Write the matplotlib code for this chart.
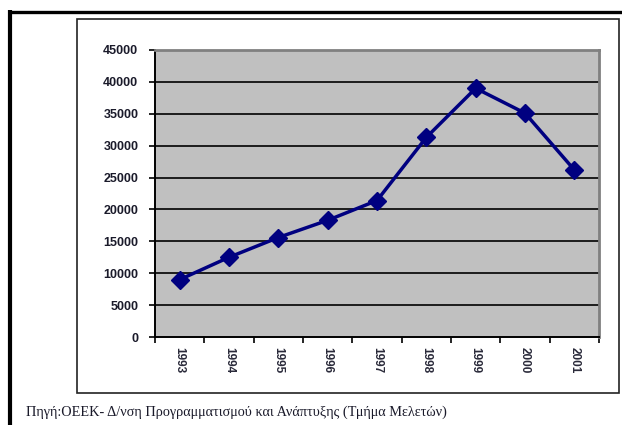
import matplotlib
matplotlib.use("Agg")
import matplotlib.pyplot as plt
from matplotlib.lines import Line2D
from matplotlib.patches import Rectangle

years = ["1993", "1994", "1995", "1996", "1997", "1998", "1999", "2000", "2001"]
values = [9000, 12500, 15600, 18300, 21400, 31300, 39000, 35100, 26200]
y_ticks = [0, 5000, 10000, 15000, 20000, 25000, 30000, 35000, 40000, 45000]
caption = "Πηγή:ΟΕΕΚ- Δ/νση Προγραμματισμού και Ανάπτυξης (Τμήμα Μελετών)"

W, H = 622, 425
fig = plt.figure(figsize=(W / 100, H / 100), dpi=100)
fig.patch.set_facecolor("white")

# outer frame (left and top thick lines)
fig.add_artist(Line2D([10 / W, 10 / W], [0, 1 - 10 / H], transform=fig.transFigure,
                      color="black", lw=3.0, solid_capstyle="butt", zorder=-2))
fig.add_artist(Line2D([8.5 / W, 1], [1 - 11.5 / H, 1 - 11.5 / H], transform=fig.transFigure,
                      color="black", lw=2.4, solid_capstyle="butt", zorder=-2))

# inner chart box
fig.add_artist(Rectangle((77 / W, 1 - 393 / H), 542 / W, 374 / H, transform=fig.transFigure,
                         facecolor="white", edgecolor="#222222", lw=1.2, zorder=-1))

ax = fig.add_axes([155 / W, 1 - 337 / H, 444 / W, 287 / H])
ax.set_zorder(2)
ax.set_facecolor("#C0C0C0")
x = list(range(len(years)))
ax.plot(x, values, color="#000080", lw=2.5, marker="D", markersize=9,
        markerfacecolor="#000080", markeredgecolor="#000080", zorder=3)

ax.set_xlim(-0.5, len(years) - 0.5)
ax.set_ylim(0, 45000)
ax.set_yticks(y_ticks)
ax.set_yticklabels([str(v) for v in y_ticks], fontsize=9, fontweight="bold",
                   family="Liberation Sans", color="#1a1a2a")
for v in y_ticks[1:-1]:
    ax.axhline(v, color="black", lw=1.2, zorder=1)

ax.set_xticks([i - 0.5 for i in range(len(years) + 1)])
ax.set_xticklabels([])
ax.set_xticks(x, minor=True)
ax.set_xticklabels(years, minor=True, rotation=270, fontsize=8.5, fontweight="bold",
                   family="Liberation Sans", color="#2a2a3a")
ax.tick_params(axis="x", which="minor", length=0, pad=7)
ax.tick_params(axis="x", which="major", direction="out", length=4, width=1.2)
ax.tick_params(axis="y", direction="out", length=4, width=1.2, pad=8)

for s in ["left", "bottom"]:
    ax.spines[s].set_color("black")
    ax.spines[s].set_linewidth(1.4)
for s in ["top", "right"]:
    ax.spines[s].set_color("#808080")
    ax.spines[s].set_linewidth(2.0)

fig.text(26 / W, 1 - 412 / H, caption, fontsize=10.3, family="Liberation Serif",
         color="#1a1a2a", va="center", ha="left")

fig.savefig("out.png", dpi=100)
